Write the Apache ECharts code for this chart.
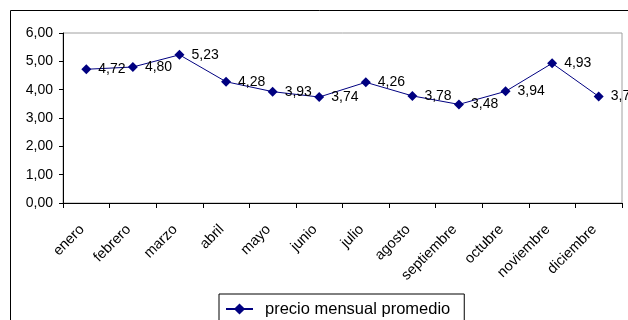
<!DOCTYPE html>
<html>
<head>
<meta charset="utf-8">
<script src="https://cdn.jsdelivr.net/npm/echarts@6/dist/echarts.min.js"></script>
<style>
  html, body { margin: 0; padding: 0; background: #fff; }
  #chart { width: 628px; height: 320px; }
</style>
</head>
<body>
<div id="chart"></div>
<script>
// Average monthly price, Jan–Dec
const months = ['enero', 'febrero', 'marzo', 'abril', 'mayo', 'junio', 'julio', 'agosto', 'septiembre', 'octubre', 'noviembre', 'diciembre'];
const precioPromedio = [4.72, 4.80, 5.23, 4.28, 3.93, 3.74, 4.26, 3.78, 3.48, 3.94, 4.93, 3.76];
const seriesName = 'precio mensual promedio';

const fmt = v => v.toFixed(2).replace('.', ',');
const font = 'Liberation Sans, Arial, sans-serif';
const navy = '#000080';

const chart = echarts.init(document.getElementById('chart'));
chart.setOption({
  animation: false,
  graphic: [
    {
      // outer chart-area frame
      type: 'rect',
      shape: { x: 10.5, y: 10.5, width: 700, height: 400 },
      style: { fill: 'none', stroke: '#000', lineWidth: 1 },
      silent: true, z: -1
    }
  ],
  grid: {
    left: 63, top: 33, right: 6, bottom: 117,
    show: true, borderColor: '#a0a0a0', borderWidth: 1, backgroundColor: 'transparent'
  },
  legend: {
    top: 294, left: 219,
    data: [seriesName],
    itemWidth: 27, itemHeight: 14,
    padding: [6, 14, 20, 6],
    borderColor: '#000', borderWidth: 1,
    textStyle: { fontFamily: font, fontSize: 16.5, color: '#000', padding: [0, 0, 0, 7], lineHeight: 18 }
  },
  xAxis: {
    type: 'category',
    data: months,
    boundaryGap: true,
    axisLine: { lineStyle: { color: '#000' } },
    axisTick: { show: true, alignWithLabel: false, length: 5, lineStyle: { color: '#000' } },
    axisLabel: { rotate: 45, interval: 0, margin: 20, padding: [0, 6, 0, 0], fontFamily: font, fontSize: 14.5, color: '#000' },
    splitLine: { show: false }
  },
  yAxis: {
    type: 'value',
    min: 0, max: 6, interval: 1,
    axisLine: { show: true, lineStyle: { color: '#000' } },
    axisTick: { show: true, length: 4, lineStyle: { color: '#000' } },
    axisLabel: { formatter: v => fmt(v), fontFamily: font, fontSize: 14, color: '#000', margin: 10 },
    splitLine: { show: false }
  },
  series: [{
    name: seriesName,
    type: 'line',
    data: precioPromedio,
    symbol: 'diamond',
    symbolSize: 10,
    lineStyle: { color: navy, width: 1 },
    itemStyle: { color: navy },
    label: {
      show: true, position: 'right', distance: 7,
      formatter: p => fmt(p.value),
      fontFamily: font, fontSize: 14, color: '#000'
    }
  }]
});
</script>
</body>
</html>
